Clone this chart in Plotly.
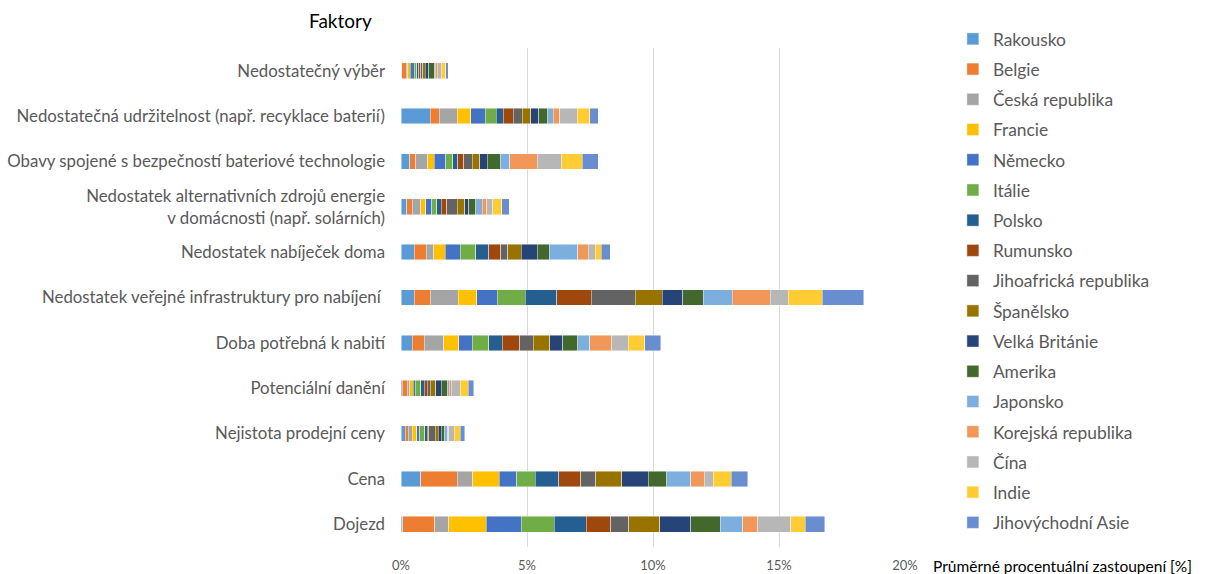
import plotly.graph_objects as go

categories = [
    "Nedostatečný výběr",
    "Nedostatečná udržitelnost (např. recyklace baterií)",
    "Obavy spojené s bezpečností bateriové technologie",
    "Nedostatek alternativních zdrojů energie<br>v domácnosti (např. solárních)",
    "Nedostatek nabíječek doma",
    "Nedostatek veřejné infrastruktury pro nabíjení\u00a0",
    "Doba potřebná k nabití",
    "Potenciální danění",
    "Nejistota prodejní ceny",
    "Cena",
    "Dojezd",
]

countries = [
    "Rakousko", "Belgie", "Česká republika", "Francie", "Německo", "Itálie",
    "Polsko", "Rumunsko", "Jihoafrická republika", "Španělsko", "Velká Británie",
    "Amerika", "Japonsko", "Korejská republika", "Čína", "Indie", "Jihovýchodní Asie",
]

colors = [
    "#5B9BD5", "#ED7D31", "#A5A5A5", "#FFC000", "#4472C4", "#70AD47",
    "#255E91", "#9E480E", "#636363", "#997300", "#264478", "#43682B",
    "#7CAFDD", "#F1975A", "#B7B7B7", "#FFCD33", "#698ED0",
]

# values in percent, per category (same order as categories)
rakousko = [0.03, 1.16, 0.34, 0.22, 0.53, 0.53, 0.45, 0.05, 0.16, 0.78, 0.07]
belgie = [0.18, 0.36, 0.24, 0.22, 0.48, 0.63, 0.48, 0.19, 0.12, 1.46, 1.26]
ceska = [0.06, 0.71, 0.48, 0.34, 0.29, 1.11, 0.77, 0.11, 0.17, 0.60, 0.56]
francie = [0.10, 0.54, 0.25, 0.20, 0.46, 0.73, 0.60, 0.13, 0.17, 1.06, 1.49]
nemecko = [0.16, 0.58, 0.46, 0.24, 0.60, 0.82, 0.53, 0.08, 0.13, 0.69, 1.40]
italie = [0.10, 0.42, 0.29, 0.19, 0.60, 1.12, 0.66, 0.22, 0.19, 0.74, 1.31]
polsko = [0.07, 0.29, 0.19, 0.19, 0.53, 1.24, 0.53, 0.15, 0.11, 0.93, 1.27]
rumunsko = [0.08, 0.40, 0.24, 0.22, 0.46, 1.36, 0.69, 0.12, 0.06, 0.87, 0.97]
jihoafricka = [0.08, 0.36, 0.34, 0.41, 0.29, 1.75, 0.53, 0.12, 0.25, 0.60, 0.70]
spanelsko = [0.10, 0.32, 0.30, 0.29, 0.54, 1.08, 0.67, 0.20, 0.11, 1.02, 1.23]
velka_britanie = [0.15, 0.32, 0.29, 0.17, 0.63, 0.81, 0.50, 0.22, 0.12, 1.06, 1.23]
amerika = [0.20, 0.37, 0.52, 0.28, 0.48, 0.82, 0.60, 0.25, 0.12, 0.74, 1.18]
japonsko = [0.05, 0.22, 0.37, 0.26, 1.12, 1.14, 0.48, 0.07, 0.14, 0.95, 0.89]
korea = [0.07, 0.24, 1.10, 0.17, 0.42, 1.51, 0.87, 0.09, 0.05, 0.53, 0.60]
cina = [0.16, 0.71, 0.95, 0.24, 0.28, 0.71, 0.66, 0.36, 0.21, 0.36, 1.31]
indie = [0.18, 0.48, 0.83, 0.36, 0.24, 1.35, 0.65, 0.30, 0.24, 0.71, 0.58]
jv_asie = [0.10, 0.34, 0.63, 0.29, 0.36, 1.65, 0.63, 0.22, 0.17, 0.65, 0.77]

series = [rakousko, belgie, ceska, francie, nemecko, italie, polsko, rumunsko,
          jihoafricka, spanelsko, velka_britanie, amerika, japonsko, korea,
          cina, indie, jv_asie]

x_ticks = [0, 5, 10, 15, 20]
x_ticklabels = ["0%", "5%", "10%", "15%", "20%"]

FONT = "Lato, 'Open Sans', sans-serif"
GREY = "#595959"

fig = go.Figure()
for name, vals, col in zip(countries, series, colors):
    fig.add_trace(go.Bar(
        y=categories, x=vals, name=name, orientation="h",
        legendgroup=name,
        marker=dict(color=col, line=dict(color="rgba(255,255,255,0.55)", width=0.8)),
    ))

fig.update_layout(
    width=1214, height=574,
    barmode="stack", bargap=0.655,
    plot_bgcolor="white", paper_bgcolor="white",
    margin=dict(l=401, r=309, t=48, b=27, autoexpand=False),
    font=dict(family=FONT, color=GREY, size=14),
    showlegend=True,
    legend=dict(
        x=1.095, xanchor="left", y=1.054, yanchor="top",
        traceorder="grouped", tracegroupgap=4.6, maxheight=600,
        font=dict(size=17.4, color=GREY, family=FONT),
        bgcolor="rgba(0,0,0,0)",
    ),
    xaxis=dict(
        range=[0, 20], tickvals=x_ticks, ticktext=x_ticklabels,
        showgrid=True, gridcolor="#D9D9D9", gridwidth=1,
        zeroline=False, showline=False, automargin=False,
        tickfont=dict(size=13, color=GREY), ticklabelstandoff=9,
        fixedrange=True,
    ),
    yaxis=dict(
        categoryorder="array", categoryarray=categories,
        autorange="reversed", automargin=False,
        showgrid=False, zeroline=False, showline=False,
        tickfont=dict(size=16.8, color=GREY), ticklabelstandoff=15,
    ),
    annotations=[
        dict(text="Faktory", xref="paper", yref="paper", x=-0.12, y=1.0,
             xanchor="center", yanchor="bottom", yshift=14, showarrow=False,
             font=dict(size=19, color="#000000", family=FONT)),
        dict(text="Průměrné procentuální zastoupení [%]", xref="paper", yref="paper",
             x=1.0, y=0, xanchor="left", yanchor="top", xshift=26, yshift=-8,
             showarrow=False, font=dict(size=15.5, color="#000000", family=FONT)),
    ],
)

fig.write_html("out.html")
